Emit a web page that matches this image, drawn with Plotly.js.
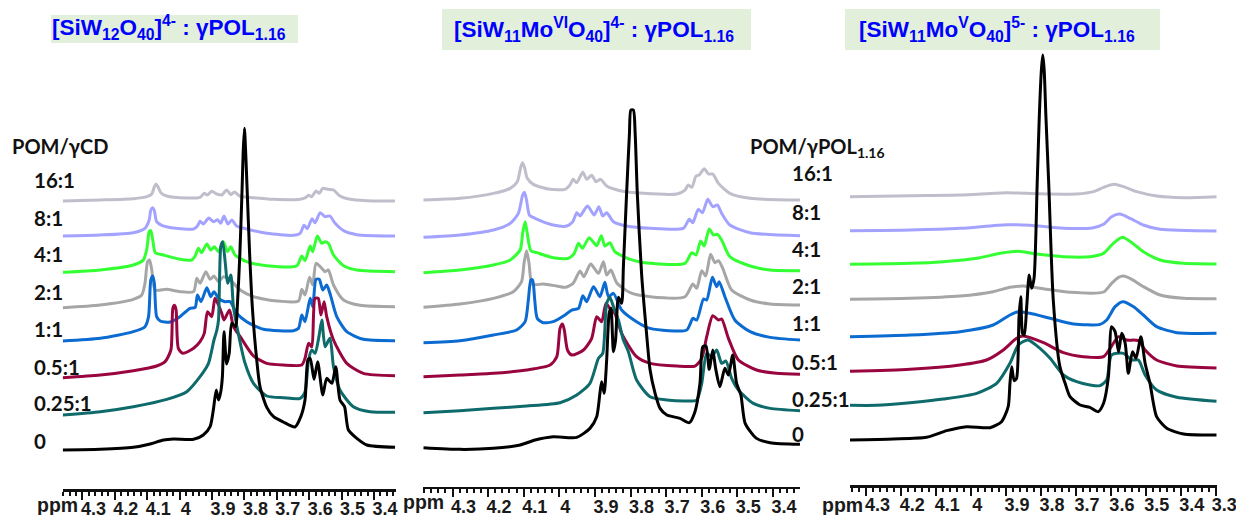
<!DOCTYPE html>
<html><head><meta charset="utf-8">
<script src="https://cdn.plot.ly/plotly-3.0.1.min.js"></script>
<style>html,body{margin:0;padding:0;background:#fff}</style></head>
<body><div id="chart" style="width:1236px;height:515px"></div>
<script>
// Ratio labels (drawing order: back to front)
const ratios = ['16:1','8:1','4:1','2:1','1:1','0.5:1','0.25:1','0'];
const lineColors = ['#BFBFCC','#A3A3FF','#33FF33','#A6A6A6','#0B6BD0','#99063F','#0F6B6B','#000000'];
const tickVals = [4.3,4.2,4.1,4.0,3.9,3.8,3.7,3.6,3.5,3.4];
const tickVals3 = [4.3,4.2,4.1,4.0,3.9,3.8,3.7,3.6,3.5,3.4,3.3];
const tickText = ['4.3','4.2','4.1','4\u00A0\u00A0','3.9','3.8','3.7','3.6','3.5','3.4'];
const tickText3 = ['4.3','4.2','4.1','4\u00A0\u00A0','3.9','3.8','3.7','3.6','3.5','3.4','3.3\u00A0'];

// Panel A: [SiW12O40]4-
const a16x = [4.361,4.245,4.143,4.101,4.086,4.078,4.073,4.067,4.058,4.040,3.978,3.937,3.924,3.914,3.901,3.885,3.870,3.855,3.842,3.831,3.815,3.772,3.710,3.628,3.610,3.602,3.592,3.579,3.569,3.558,3.541,3.525,3.505,3.474,3.422,3.335];
const a16y = [864,867,871,877,885,907,915,907,889,879,873,875,887,882,893,885,882,897,883,891,879,874,869,869,875,881,877,894,887,902,899,897,879,869,865,864];
const a8x = [4.361,4.245,4.143,4.107,4.094,4.089,4.083,4.078,4.071,4.055,4.019,3.957,3.945,3.937,3.927,3.910,3.896,3.883,3.873,3.863,3.851,3.839,3.824,3.793,3.731,3.649,3.628,3.616,3.606,3.591,3.582,3.566,3.551,3.536,3.520,3.494,3.453,3.335];
const a8y = [759,762,769,782,807,837,844,835,802,791,783,780,789,803,795,813,802,808,797,819,795,807,789,780,767,761,767,791,781,811,799,829,817,819,797,775,763,759];
const a4x = [4.361,4.245,4.143,4.112,4.101,4.094,4.089,4.083,4.075,4.050,3.999,3.963,3.952,3.942,3.932,3.916,3.904,3.893,3.880,3.865,3.852,3.842,3.829,3.793,3.731,3.638,3.623,3.613,3.597,3.589,3.575,3.561,3.551,3.541,3.525,3.494,3.453,3.335];
const a4y = [650,657,672,687,722,772,775,747,709,702,689,687,699,722,709,735,717,727,712,742,712,727,702,682,670,670,699,685,729,712,759,737,742,737,702,670,657,652];
const a2x = [4.361,4.245,4.143,4.117,4.107,4.099,4.093,4.086,4.076,4.040,3.999,3.957,3.947,3.937,3.919,3.906,3.894,3.880,3.865,3.844,3.813,3.772,3.700,3.633,3.623,3.613,3.599,3.589,3.579,3.561,3.551,3.541,3.525,3.494,3.443,3.335];
const a2y = [544,552,569,582,617,682,687,657,597,599,592,592,632,617,652,629,639,622,637,627,597,577,564,564,599,582,635,612,677,662,652,657,612,567,551,547];
const a1x = [4.361,4.245,4.143,4.107,4.096,4.089,4.083,4.078,4.071,4.060,4.029,3.999,3.968,3.952,3.945,3.934,3.916,3.904,3.894,3.880,3.860,3.844,3.824,3.793,3.741,3.649,3.633,3.623,3.613,3.597,3.589,3.579,3.569,3.558,3.546,3.536,3.515,3.484,3.433,3.335];
const a1y = [444,452,472,487,517,627,639,617,517,504,501,517,542,545,582,562,604,577,592,572,562,562,527,502,479,475,482,522,502,572,547,629,629,597,612,587,517,472,449,445];
const a05x = [4.361,4.245,4.143,4.071,4.045,4.027,4.021,4.016,4.011,4.004,3.990,3.957,3.937,3.924,3.914,3.901,3.891,3.880,3.870,3.863,3.846,3.834,3.813,3.772,3.731,3.680,3.623,3.613,3.602,3.592,3.582,3.572,3.564,3.554,3.546,3.525,3.484,3.433,3.335];
const a05y = [334,342,355,369,382,417,542,551,537,422,407,422,442,467,532,517,572,552,527,507,537,487,457,399,377,372,372,392,437,427,572,572,522,562,517,447,377,347,340];
const a025x = [4.361,4.245,4.143,4.040,3.978,3.937,3.911,3.894,3.885,3.880,3.873,3.867,3.859,3.852,3.842,3.834,3.819,3.798,3.772,3.731,3.680,3.628,3.613,3.602,3.592,3.582,3.570,3.561,3.551,3.536,3.525,3.505,3.464,3.412,3.335];
const a025y = [222,232,247,269,292,337,377,447,477,507,727,742,677,617,642,547,467,377,317,279,274,272,292,387,417,407,457,507,427,452,367,297,247,232,230];
const a0x = [4.361,4.245,4.143,4.091,4.050,4.019,3.957,3.927,3.906,3.896,3.887,3.880,3.873,3.868,3.863,3.855,3.847,3.839,3.827,3.822,3.814,3.807,3.804,3.800,3.796,3.792,3.784,3.775,3.762,3.752,3.731,3.710,3.680,3.644,3.626,3.613,3.604,3.597,3.585,3.574,3.558,3.546,3.530,3.518,3.505,3.491,3.479,3.453,3.422,3.335];
const a0y = [117,119,125,135,147,150,149,162,187,237,297,267,292,337,472,375,407,497,487,547,707,907,1007,1082,1007,907,707,537,387,307,245,217,201,186,217,267,387,392,329,382,282,332,317,367,267,247,177,152,132,125];

// Panel B: [SiW11MoVIO40]4-
const b16x = [4.382,4.279,4.185,4.138,4.118,4.108,4.103,4.097,4.090,4.073,4.026,3.984,3.970,3.961,3.951,3.934,3.923,3.909,3.897,3.884,3.867,3.829,3.764,3.670,3.647,3.638,3.628,3.616,3.607,3.593,3.581,3.569,3.553,3.521,3.464,3.324];
const b16y = [860,865,880,895,915,960,972,955,925,907,892,892,905,922,912,943,922,934,915,922,902,888,880,878,890,905,898,932,935,954,938,938,910,880,865,860];
const b8x = [4.382,4.279,4.185,4.138,4.115,4.103,4.098,4.092,4.084,4.068,4.017,3.979,3.962,3.951,3.942,3.921,3.902,3.889,3.878,3.867,3.848,3.811,3.745,3.652,3.635,3.625,3.610,3.598,3.583,3.569,3.556,3.544,3.521,3.464,3.324];
const b8y = [748,755,770,790,820,875,883,860,815,805,785,782,795,822,812,842,815,840,812,822,795,782,775,775,802,792,832,822,862,840,845,820,785,762,753];
const b4x = [4.382,4.279,4.185,4.138,4.110,4.103,4.096,4.090,4.080,4.063,4.017,3.975,3.959,3.946,3.935,3.916,3.895,3.882,3.872,3.858,3.844,3.801,3.745,3.647,3.628,3.616,3.603,3.593,3.579,3.567,3.556,3.544,3.521,3.464,3.408,3.324];
const b4y = [642,650,665,680,710,760,795,760,708,702,687,685,698,730,715,747,723,753,722,732,705,682,670,670,702,695,737,722,773,755,757,740,690,662,650,648];
const b2x = [4.382,4.279,4.185,4.129,4.106,4.099,4.092,4.085,4.076,4.045,4.007,3.984,3.961,3.942,3.931,3.912,3.890,3.876,3.867,3.855,3.839,3.801,3.745,3.647,3.625,3.614,3.600,3.589,3.575,3.563,3.553,3.541,3.516,3.464,3.408,3.324];
const b2y = [538,548,565,585,615,670,708,670,607,608,602,598,610,647,630,668,640,675,635,650,612,582,570,570,608,595,648,632,697,672,678,655,590,560,548,545];
const b1x = [4.382,4.279,4.185,4.120,4.096,4.087,4.080,4.075,4.069,4.062,4.045,4.017,3.984,3.965,3.946,3.934,3.923,3.904,3.886,3.872,3.862,3.848,3.825,3.783,3.745,3.642,3.625,3.614,3.595,3.586,3.570,3.558,3.551,3.535,3.507,3.464,3.408,3.324];
const b1y = [432,438,455,470,495,560,620,620,560,505,492,495,515,530,535,573,555,600,570,613,570,580,530,495,475,470,505,500,563,560,628,600,615,570,500,465,448,440];
const b05x = [4.382,4.279,4.185,4.092,4.026,4.007,3.998,3.991,3.986,3.977,3.965,3.932,3.909,3.895,3.881,3.869,3.858,3.844,3.825,3.783,3.745,3.670,3.619,3.600,3.586,3.569,3.553,3.544,3.525,3.497,3.446,3.390,3.324];
const b05y = [330,335,340,350,365,390,475,488,470,410,395,410,445,510,495,550,535,520,460,390,370,362,362,385,450,513,500,503,445,380,350,340,337];
const b025x = [4.382,4.279,4.185,4.092,3.998,3.951,3.914,3.890,3.878,3.867,3.858,3.848,3.834,3.820,3.806,3.783,3.745,3.698,3.642,3.614,3.600,3.586,3.572,3.558,3.544,3.532,3.516,3.497,3.455,3.408,3.324];
const b025y = [222,228,235,242,252,275,310,385,400,550,568,540,500,440,405,320,270,260,257,260,310,400,390,410,370,377,325,290,250,235,228];
const b0x = [4.382,4.279,4.185,4.110,4.068,4.017,3.951,3.914,3.895,3.886,3.881,3.874,3.867,3.860,3.855,3.848,3.842,3.834,3.825,3.820,3.811,3.803,3.799,3.792,3.787,3.781,3.769,3.755,3.745,3.731,3.717,3.698,3.661,3.635,3.619,3.605,3.597,3.588,3.579,3.569,3.561,3.549,3.535,3.525,3.513,3.502,3.490,3.478,3.446,3.408,3.324];
const b0y = [117,112,115,125,140,150,148,175,210,280,315,280,380,520,535,405,440,568,550,660,880,1060,1130,1130,1060,880,640,460,350,280,235,215,205,192,225,310,420,422,352,410,355,300,355,335,395,310,275,190,145,132,127];

// Panel C: [SiW11MoVO40]5-
const c16x = [4.347,4.175,4.032,3.898,3.841,3.698,3.650,3.621,3.591,3.564,3.526,3.469,3.392,3.297];
const c16y = [865,868,870,877,875,873,880,893,902,895,880,867,862,865];
const c8x = [4.347,4.175,4.032,3.898,3.832,3.736,3.650,3.621,3.598,3.574,3.545,3.507,3.459,3.297];
const c8y = [763,765,770,781,779,770,772,782,805,813,800,780,767,762];
const c4x = [4.347,4.175,4.080,3.984,3.917,3.865,3.812,3.736,3.660,3.621,3.593,3.567,3.540,3.507,3.459,3.392,3.297];
const c4y = [662,665,670,680,695,701,693,685,685,695,725,743,727,700,675,665,663];
const c2x = [4.347,4.175,4.032,3.937,3.889,3.851,3.793,3.717,3.621,3.598,3.578,3.564,3.540,3.507,3.459,3.392,3.297];
const c2y = [557,560,567,580,593,597,589,578,579,605,623,627,617,595,570,560,559];
const c1x = [4.347,4.175,4.032,3.937,3.889,3.865,3.832,3.774,3.707,3.631,3.612,3.588,3.566,3.535,3.507,3.469,3.411,3.297];
const c1y = [445,450,460,480,510,520,515,500,483,482,495,535,550,535,510,475,457,455];
const c05x = [4.347,4.175,4.032,3.956,3.908,3.870,3.851,3.793,3.736,3.679,3.621,3.602,3.578,3.555,3.521,3.502,3.469,3.411,3.297];
const c05y = [341,347,360,375,405,440,447,427,397,385,385,410,445,435,433,405,375,357,351];
const c025x = [4.347,4.271,4.175,4.080,3.984,3.927,3.889,3.865,3.838,3.803,3.774,3.736,3.698,3.660,3.631,3.612,3.598,3.564,3.540,3.521,3.502,3.469,3.411,3.297];
const c025y = [239,239,247,258,275,305,365,420,435,410,380,330,310,300,298,315,390,395,375,375,330,285,263,251];
const c0x = [4.347,4.223,4.128,4.070,4.013,3.946,3.913,3.894,3.889,3.884,3.877,3.870,3.863,3.858,3.853,3.848,3.841,3.834,3.827,3.820,3.811,3.805,3.799,3.795,3.791,3.786,3.778,3.765,3.746,3.731,3.717,3.688,3.660,3.636,3.621,3.607,3.598,3.588,3.578,3.569,3.559,3.550,3.538,3.528,3.514,3.502,3.488,3.469,3.440,3.392,3.297];
const c0y = [135,138,143,163,175,172,190,235,305,355,313,320,505,565,455,450,535,630,590,620,905,1105,1245,1290,1245,1105,905,555,355,305,265,240,233,220,245,325,475,460,400,455,425,335,400,380,445,365,305,205,170,153,150];

const W = 1236, H = 515;
const panels = [
  {xa:'x', ya:'y', xs:[a16x,a8x,a4x,a2x,a1x,a05x,a025x,a0x], ys:[a16y,a8y,a4y,a2y,a1y,a05y,a025y,a0y],
   left:62.7, right:395.7, axisY:489, xr:[4.361,3.333], yMax:1467, tv:tickVals, tt:tickText},
  {xa:'x2', ya:'y2', xs:[b16x,b8x,b4x,b2x,b1x,b05x,b025x,b0x], ys:[b16y,b8y,b4y,b2y,b1y,b05y,b025y,b0y],
   left:423.3, right:800, axisY:486.7, xr:[4.382,3.324], yMax:1460, tv:tickVals, tt:tickText},
  {xa:'x3', ya:'y3', xs:[c16x,c8x,c4x,c2x,c1x,c05x,c025x,c0x], ys:[c16y,c8y,c4y,c2y,c1y,c05y,c025y,c0y],
   left:850, right:1216.7, axisY:485, xr:[4.347,3.297], yMax:1455, tv:tickVals3, tt:tickText3}
];

const traces = [];
const layout = {width:W, height:H, margin:{l:0,r:0,t:0,b:0}, showlegend:false,
  paper_bgcolor:'#fff', plot_bgcolor:'rgba(0,0,0,0)', annotations:[], shapes:[],
  font:{family:'"Liberation Sans", Arial, sans-serif', color:'#111'}};

panels.forEach((p,i)=>{
  ratios.forEach((r,k)=>{
    traces.push({type:'scatter', mode:'lines', name:r, x:p.xs[k], y:p.ys[k], xaxis:p.xa, yaxis:p.ya,
      hoverinfo:'skip', line:{color:lineColors[k], width:3, shape:'spline', smoothing:0.65}});
  });
  const sfx = i===0 ? '' : String(i+1);
  layout['xaxis'+sfx] = {domain:[p.left/W,p.right/W], range:p.xr, anchor:'y'+sfx, showgrid:false, zeroline:false,
    showline:true, linecolor:'#111', linewidth:2.5, tickmode:'array', tickvals:p.tv, ticktext:p.tt,
    ticks:'outside', ticklen:8, tickwidth:2, tickcolor:'#111', ticklabelshift:-11, ticklabelstandoff:-6,
    ticklabeloverflow:'allow', tickangle:0,
    tickfont:{size:18, family:'"Liberation Sans", Arial, sans-serif', color:'#1a1a1a', weight:700},
    minor:{tickmode:'linear', tick0:3.3, dtick:0.02, ticks:'outside', ticklen:4, tickwidth:2, tickcolor:'#111', showgrid:false}};
  layout['yaxis'+sfx] = {domain:[(H-p.axisY)/H,1], range:[0,p.yMax], visible:false, fixedrange:true};
});

function note(text,px,py,size,opts){
  layout.annotations.push(Object.assign({xref:'paper',yref:'paper',x:px/W,y:1-py/H,text:text,showarrow:false,
    xanchor:'left',yanchor:'middle',align:'left',
    font:{family:'Lato, "Liberation Sans", sans-serif',size:size,color:'#111',weight:700}},opts||{}));
}
const titleFont = {family:'"Liberation Sans", Arial, sans-serif',size:22.5,color:'#0000FF',weight:700};
const titleA = '[SiW<sub>12</sub>O<sub>40</sub>]<sup>4-</sup> : γPOL<sub>1.16</sub>';
const titleB = '[SiW<sub>11</sub>Mo<sup>VI</sup>O<sub>40</sub>]<sup>4-</sup> : γPOL<sub>1.16</sub>';
const titleC = '[SiW<sub>11</sub>Mo<sup>V</sup>O<sub>40</sub>]<sup>5-</sup> : γPOL<sub>1.16</sub>';
[[51,298,15,43,titleA,50,27.5],[442,751,9,50,titleB,452,30],[845,1160,9,50,titleC,857,30]].forEach(t=>{
  layout.shapes.push({type:'rect',xref:'paper',yref:'paper',layer:'below',x0:t[0]/W,x1:t[1]/W,y0:1-t[3]/H,y1:1-t[2]/H,
    fillcolor:'#E2EFDA',line:{width:0}});
  note(t[4],t[5],t[6],22.5,{font:titleFont});
});

const rowsA = [180,218,254,292,329,367,403,441];
const rowsC = [173,212,249,286,323,362,399,434];
ratios.forEach((r,k)=>{ note(r,32,rowsA[k],20.5); note(r,790,rowsC[k],20.5); });
const headFont = {family:'Lato, "Liberation Sans", sans-serif',size:20,color:'#111',weight:700};
note('POM/γCD',10,146,20,{font:headFont});
note('POM/γPOL<sub>1.16</sub>',748,147,20,{font:headFont});
const ppmFont = {family:'"Liberation Sans", Arial, sans-serif',size:19.5,color:'#1a1a1a',weight:700};
note('ppm',35,505,19.5,{font:ppmFont});
note('ppm',401,502,19.5,{font:ppmFont});
note('ppm',820,505,19.5,{font:ppmFont});

Plotly.newPlot('chart',traces,layout,{displayModeBar:false,staticPlot:true});
</script></body></html>
